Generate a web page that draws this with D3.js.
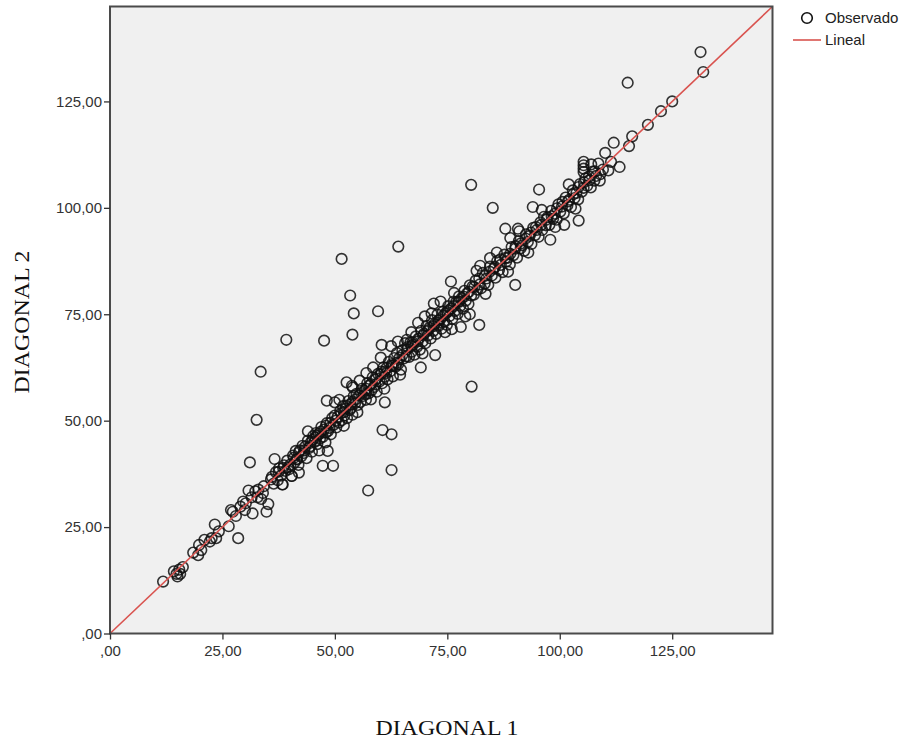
<!DOCTYPE html>
<html><head><meta charset="utf-8">
<script src="https://cdn.jsdelivr.net/npm/d3@7/dist/d3.min.js"></script>
<style>body{margin:0;background:#fff;}svg{display:block;}</style>
</head><body>
<svg id="chart" width="912" height="742"></svg>
<script>
// Axis ticks
const xTicks = [0, 25, 50, 75, 100, 125];
const yTicks = [0, 25, 50, 75, 100, 125];
const axisMax = 147.3;
const xTitle = "DIAGONAL 1";
const yTitle = "DIAGONAL 2";
const legendLabels = ["Observado", "Lineal"];

// Observed points [DIAGONAL 1, DIAGONAL 2]
const obsLow = [[11.8,12.2],[14.2,14.6],[15.0,13.4],[15.6,14.0],[15.4,15.0],[16.2,15.6],[14.8,14.0],[18.5,19.0],[19.6,18.4],[20.3,19.6],[19.8,20.8],[21.0,22.0],[22.6,22.4],[23.3,25.6],[22.2,21.6],[24.2,24.0],[26.4,25.2],[26.9,29.0],[28.0,27.6],[27.3,28.6],[23.6,22.4],
[29.0,29.8],[29.6,31.0],[30.2,30.6],[30.8,33.6],[31.5,32.0],[31.7,28.2],[32.3,33.4],[33.0,33.8],[33.6,31.6],[34.2,34.6],[34.8,28.6],[35.2,30.4],[35.8,36.2],[30.0,29.0],[32.8,32.0],[34.0,33.0]];

const obsMid1 = [[36.0,36.8],[36.4,35.2],[36.9,37.9],[37.3,36.0],[37.6,38.8],[38.0,37.1],[38.3,35.0],[38.7,39.5],[39.0,38.2],[39.4,40.6],[39.8,38.6],[40.1,39.7],[40.4,37.0],[40.7,41.8],[41.0,40.2],[41.3,42.9],[41.6,40.9],[41.9,39.6],[42.2,43.0],[42.5,41.6],[42.8,44.1],[43.1,42.4],[43.4,43.9],[43.7,41.2],[44.0,45.3],[44.3,43.6],[44.6,44.8],[44.9,42.7],[45.2,46.4],[45.5,45.0],[45.8,47.1],[46.1,44.5],[46.4,46.9],[46.7,45.8],[47.0,48.5],[47.3,46.2],[47.6,47.9],[47.9,44.9],[48.2,49.4],[48.5,47.6],[48.8,48.3],[49.1,46.8],[49.4,50.6],[49.7,49.0],[50.0,51.2],[50.3,48.4],[50.6,50.9],[50.9,49.6],
[36.6,41.0],[42.0,37.8],[38.4,35.0],[40.4,37.0],[47.3,39.4],[49.6,39.4],[48.4,42.9],[37.5,38.0],[41.5,41.0],[45.0,45.5],[46.0,46.5],[48.0,48.8]];

const obsMid2 = [[51.2,52.3],[51.5,50.1],[51.8,53.4],[52.1,51.2],[52.4,52.8],[52.7,50.6],[53.0,54.6],[53.3,52.5],[53.6,53.0],[53.9,51.4],[54.2,55.8],[54.5,54.1],[54.8,56.3],[55.1,53.7],[55.4,55.9],[55.7,54.4],[56.0,57.5],[56.3,55.8],[56.6,57.0],[56.9,54.9],[57.2,58.8],[57.5,56.4],[57.8,58.3],[58.1,57.1],[58.4,60.2],[58.7,57.9],[59.0,59.6],[59.3,56.8],[59.6,61.0],[59.9,59.2],[60.2,60.9],[60.5,58.8],[60.8,62.5],[61.1,60.3],[61.4,61.2],[61.7,59.7],[62.0,63.8],[62.3,61.6],[62.6,62.9],[62.9,60.4],[63.2,64.7],[63.5,62.7],[63.8,65.9],[64.1,63.3],[64.4,64.8],[64.7,62.0],[65.0,66.5],[65.3,64.6],[65.6,68.2],[65.9,65.1],
[51.0,54.9],[53.8,58.2],[55.5,59.4],[57.0,61.2],[60.2,64.8],[62.5,67.5],[64.0,68.6],[66.0,69.0],[52.6,59.0],[48.2,54.7],[50.0,54.3],[61.1,54.3],[55.0,52.0],[58.0,55.0],[52.0,52.0],[54.0,54.5],[57.0,57.5],[59.0,58.5],[61.0,61.5],[63.0,63.0]];

const obsMid3 = [[66.2,67.3],[66.5,65.0],[66.8,68.4],[67.1,66.2],[67.4,67.9],[67.7,65.5],[68.0,69.8],[68.3,67.4],[68.6,69.3],[68.9,66.7],[69.2,71.1],[69.5,68.6],[69.8,70.4],[70.1,68.2],[70.4,72.3],[70.7,70.0],[71.0,71.8],[71.3,69.3],[71.6,73.6],[71.9,71.1],[72.2,72.7],[72.5,70.4],[72.8,74.9],[73.1,72.3],[73.4,73.8],[73.7,71.6],[74.0,75.6],[74.3,73.4],[74.6,75.2],[74.9,72.5],[75.2,76.9],[75.5,74.6],[75.8,76.3],[76.1,73.9],[76.4,78.0],[76.7,75.8],[77.0,77.9],[77.3,75.1],[77.6,79.2],[77.9,77.0],[78.2,78.8],[78.5,76.3],[78.8,80.5],[79.1,78.2],[79.4,79.9],[79.7,77.4],[80.0,81.8],[80.3,79.4],
[68.5,73.0],[70.0,74.5],[72.0,77.5],[73.5,78.0],[72.3,65.4],[69.1,62.5],[78.0,72.0],[80.0,75.0],[82.1,72.5],[76.0,71.5],[67.0,67.5],[70.5,71.0],[73.0,73.5],[75.0,75.5],[77.5,78.0]];

const obsHigh = [[80.6,81.5],[80.9,79.6],[81.3,82.9],[81.7,80.8],[82.1,83.4],[82.5,81.1],[82.9,84.7],[83.3,82.2],[83.7,83.4],[84.1,81.9],[84.5,86.2],[84.9,84.1],[85.3,85.7],[85.7,83.6],[86.1,87.5],[86.5,85.4],[86.9,86.6],[87.3,84.9],[87.7,89.0],[88.1,87.4],[88.5,88.3],[88.9,86.7],[89.3,90.8],[89.7,88.9],[90.1,90.4],[90.5,88.3],[90.9,92.2],[91.3,90.5],[91.7,91.2],[92.1,89.9],[92.5,93.8],[92.9,92.0],[93.3,93.4],[93.7,91.5],[94.1,95.3],[94.5,93.6],[94.9,94.8],[95.3,93.2],
[82.3,86.4],[84.5,88.2],[87.9,95.1],[90.7,95.1],[89.0,92.9],[75.8,82.7],[90.1,81.9],[97.9,92.5],[101.0,96.0],[104.2,97.0],[85.1,100.0],[94.0,100.2],[95.4,104.3]];

const obsTop = [[95.7,96.6],[96.1,94.8],[96.5,97.9],[96.9,95.9],[97.3,97.8],[97.7,96.0],[98.1,99.3],[98.5,97.4],[98.9,98.6],[99.3,97.2],[99.7,100.8],[100.1,99.1],[100.5,100.3],[100.9,98.7],[101.3,102.4],[101.7,100.6],[102.1,101.9],[102.5,100.2],[102.9,104.1],[103.3,102.3],[103.7,103.5],[104.1,102.0],[104.5,105.6],[104.9,103.8],[105.3,104.7],[105.7,106.9],[106.1,105.2],[106.5,107.4],[106.9,104.8],[107.3,108.5],[107.7,106.4],[108.1,107.5],[108.6,110.4],[109.0,107.9],[109.6,109.0],[110.1,112.9],[110.8,108.8],[108.9,106.4],[111.4,110.8],[112.0,115.3],[113.3,109.6],[115.4,114.5],[116.1,116.8],[119.6,119.5],[122.5,122.7],[125.0,125.0],[131.9,131.9],[131.3,136.6],
[105.3,110.8],[105.3,110.0],[105.3,109.2],[105.3,108.4]];

const obsBand = [[38.5,38.9],[39.6,39.0],[40.9,41.3],[42.0,42.5],[43.2,43.0],[44.5,44.0],[45.7,46.0],[46.8,47.4],[48.0,47.2],[49.0,49.5],[50.2,50.0],[51.4,51.8],[52.5,53.5],[53.5,53.9],[54.6,55.0],[55.8,56.5],[56.8,56.2],[58.0,58.6],[59.2,59.9],[60.3,61.5],[61.5,62.4],[62.7,63.3],[63.8,63.6],[65.0,65.4],[66.1,66.8],[67.3,68.4],[68.4,68.6],[69.6,70.0],[70.8,71.3],[71.9,72.2],[73.0,73.0],[74.1,74.6],[75.3,75.9],[76.4,76.9],[77.6,77.9],[78.7,79.1],[79.8,80.3],[81.0,81.4],[82.2,82.0],[83.3,84.0],[84.4,85.0],[85.6,86.1],[86.8,87.9],[87.9,88.2],[89.0,89.2],[90.2,91.0],[91.3,91.6],[92.4,92.8],[93.6,94.2],[94.7,95.5],[95.9,96.0],[97.0,97.2],[98.2,98.0],[99.4,99.9],[100.6,101.4],[101.8,101.5],[103.0,103.2],[104.2,104.9],[105.4,106.0],[106.6,106.5],[107.8,108.6],
[44.0,47.5],[46.5,43.0],[52.0,48.8],[54.0,57.8],[58.5,62.5],[61.0,57.5],[64.5,60.8],[67.0,70.8],[69.5,65.8],[71.5,75.2],[74.5,70.8],[76.5,80.0],[79.0,74.5],[81.5,85.2],[83.5,79.8],[86.0,89.5],[88.5,85.0],[91.0,94.5],[93.0,89.5],[96.0,99.5],[99.0,95.5],[102.0,105.5],[103.5,99.8],[107.0,110.2]];

const obsOutliers = [[33.5,61.5],[39.2,69.0],[47.6,68.8],[53.4,79.4],[54.2,75.2],[59.6,75.7],[53.9,70.2],[51.5,88.0],[64.1,90.9],[32.6,50.2],[31.1,40.2],[60.4,67.8],[60.6,47.8],[62.6,46.8],[62.6,38.4],[57.4,33.6],[80.4,58.0],[28.5,22.4],[80.3,105.4],[115.1,129.4]];

// Fit line (y = x)
const fitLine = [[0,0],[axisMax,axisMax]];

const observed = [].concat(obsLow, obsMid1, obsMid2, obsMid3, obsHigh, obsTop, obsBand, obsOutliers);

const svg = d3.select("#chart");
const plot = {left:110, top:6.5, right:772.5, bottom:633.5};
const x = d3.scaleLinear().domain([0, axisMax]).range([plot.left, plot.right]);
const y = d3.scaleLinear().domain([0, axisMax]).range([plot.bottom, plot.top]);
const fmt = d => d === 0 ? ",00" : d3.format(".2f")(d).replace(".", ",");

svg.append("rect").attr("x", plot.left).attr("y", plot.top)
  .attr("width", plot.right - plot.left).attr("height", plot.bottom - plot.top)
  .attr("fill", "#f0f0f0");

const gp = svg.append("g");
gp.selectAll("circle").data(observed).enter().append("circle")
  .attr("cx", d => x(d[0])).attr("cy", d => y(d[1])).attr("r", 5.3)
  .attr("fill", "none").attr("stroke", "#111").attr("stroke-width", 1.6).attr("stroke-opacity", 0.85);

svg.append("path").datum(fitLine)
  .attr("d", d3.line().x(d => x(d[0])).y(d => y(d[1])))
  .attr("stroke", "#d9534f").attr("stroke-width", 1.6).attr("fill", "none");

svg.append("rect").attr("x", plot.left).attr("y", plot.top)
  .attr("width", plot.right - plot.left).attr("height", plot.bottom - plot.top)
  .attr("fill", "none").attr("stroke", "#4a4a4a").attr("stroke-width", 2);

const xAxis = svg.append("g").attr("transform", `translate(0,${plot.bottom})`)
  .call(d3.axisBottom(x).tickValues(xTicks).tickFormat(fmt).tickSize(6).tickPadding(6));
const yAxis = svg.append("g").attr("transform", `translate(${plot.left},0)`)
  .call(d3.axisLeft(y).tickValues(yTicks).tickFormat(fmt).tickSize(6).tickPadding(2));
[xAxis, yAxis].forEach(a => {
  a.select(".domain").remove();
  a.selectAll(".tick line").attr("stroke", "#333").attr("stroke-width", 1.3);
  a.selectAll(".tick text").attr("fill", "#333")
    .style("font-family", "'Liberation Sans', Arial, sans-serif").style("font-size", "15px");
});

svg.append("text").attr("x", 447).attr("y", 735).attr("text-anchor", "middle")
  .attr("textLength", 143).attr("lengthAdjust", "spacingAndGlyphs")
  .style("font-family", "'Liberation Serif', 'Times New Roman', serif").style("font-size", "21px")
  .attr("fill", "#111").text(xTitle);
svg.append("text").attr("transform", "translate(29,322) rotate(-90)").attr("text-anchor", "middle")
  .attr("textLength", 143).attr("lengthAdjust", "spacingAndGlyphs")
  .style("font-family", "'Liberation Serif', 'Times New Roman', serif").style("font-size", "21px")
  .attr("fill", "#111").text(yTitle);

const lg = svg.append("g");
lg.append("circle").attr("cx", 807).attr("cy", 18).attr("r", 5.3)
  .attr("fill", "none").attr("stroke", "#111").attr("stroke-width", 1.6);
lg.append("line").attr("x1", 793).attr("x2", 821).attr("y1", 40).attr("y2", 40)
  .attr("stroke", "#d9534f").attr("stroke-width", 1.6);
lg.selectAll("text").data(legendLabels).enter().append("text")
  .attr("x", 825).attr("y", (d, i) => 23 + i * 22)
  .style("font-family", "'Liberation Sans', Arial, sans-serif").style("font-size", "15px")
  .attr("fill", "#222").text(d => d);
</script>
</body></html>
